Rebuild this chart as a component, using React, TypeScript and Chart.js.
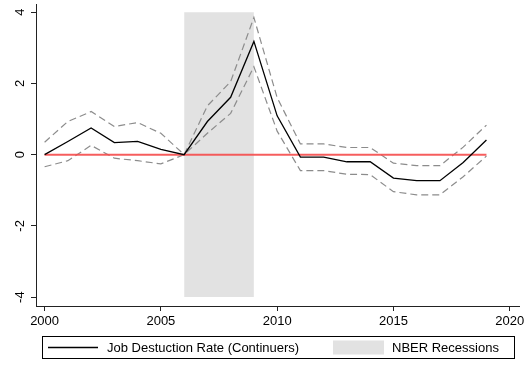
import React, { useEffect, useRef } from "react";
import { Chart, registerables } from "chart.js";

Chart.register(...registerables);

const years = [2000, 2001, 2002, 2003, 2004, 2005, 2006, 2007, 2008, 2009, 2010, 2011, 2012, 2013, 2014, 2015, 2016, 2017, 2018, 2019];
const jobDestruction = [0, 0.37, 0.75, 0.34, 0.37, 0.15, 0, 0.93, 1.61, 3.18, 1.09, -0.07, -0.07, -0.2, -0.2, -0.66, -0.73, -0.73, -0.22, 0.41];
const upperBand = [0.35, 0.93, 1.21, 0.79, 0.9, 0.6, 0, 1.37, 2.05, 3.85, 1.6, 0.3, 0.3, 0.2, 0.2, -0.24, -0.31, -0.31, 0.21, 0.83];
const lowerBand = [-0.34, -0.17, 0.26, -0.1, -0.17, -0.26, 0, 0.6, 1.16, 2.47, 0.66, -0.45, -0.45, -0.55, -0.56, -1.04, -1.13, -1.13, -0.62, -0.04];
const zeroLine = [0, 0, 0, 0, 0, 0, 0, 0, 0, 0, 0, 0, 0, 0, 0, 0, 0, 0, 0, 0];
const recessionYears = [2006, 2009];
const recessionTop = [4, 4];
const recessionBottom = [-4, -4];
const xTicks = [2000, 2005, 2010, 2015, 2020];
const yTicks = [-4, -2, 0, 2, 4];
const legendLabels = ["Job Destuction Rate (Continuers)", "NBER Recessions"];

const FONT = "Liberation Sans, Arial, Helvetica, sans-serif";
const SHADE = "rgb(226,226,226)";
const AXIS = "#222";

const pts = (xs: number[], ys: number[]) => xs.map((x, i) => ({ x, y: ys[i] }));

const legendPlugin = {
  id: "boxLegend",
  afterDraw(chart: any) {
    const ctx = chart.ctx;
    ctx.save();
    const left = 42.5, top = 336.5, w = 472, h = 22;
    ctx.strokeStyle = "#000";
    ctx.lineWidth = 1;
    ctx.strokeRect(left, top, w, h);
    const cy = top + h / 2;
    ctx.beginPath();
    ctx.moveTo(48, cy);
    ctx.lineTo(98, cy);
    ctx.lineWidth = 1.3;
    ctx.stroke();
    ctx.fillStyle = "#000";
    ctx.font = `13px ${FONT}`;
    ctx.textBaseline = "middle";
    ctx.textAlign = "left";
    ctx.fillText(legendLabels[0], 107, cy + 0.5);
    ctx.fillStyle = SHADE;
    ctx.fillRect(333, cy - 7, 51, 14);
    ctx.fillStyle = "#000";
    ctx.fillText(legendLabels[1], 392, cy + 0.5);
    ctx.restore();
  },
};

export default function App() {
  const ref = useRef<HTMLCanvasElement | null>(null);
  useEffect(() => {
    if (!ref.current) return;
    const chart = new Chart(ref.current, {
      type: "line",
      data: {
        datasets: [
          {
            label: "shadeTop",
            data: pts(recessionYears, recessionTop),
            borderWidth: 0,
            borderColor: "rgba(0,0,0,0)",
            backgroundColor: SHADE,
            pointRadius: 0,
            fill: "+1",
            order: 10,
          },
          {
            label: "shadeBottom",
            data: pts(recessionYears, recessionBottom),
            borderWidth: 0,
            borderColor: "rgba(0,0,0,0)",
            pointRadius: 0,
            fill: false,
            order: 11,
          },
          {
            label: "upper",
            data: pts(years, upperBand),
            borderColor: "rgb(140,140,140)",
            borderWidth: 1.2,
            borderDash: [7, 4],
            pointRadius: 0,
            fill: false,
            tension: 0,
            order: 5,
          },
          {
            label: "lower",
            data: pts(years, lowerBand),
            borderColor: "rgb(140,140,140)",
            borderWidth: 1.2,
            borderDash: [7, 4],
            pointRadius: 0,
            fill: false,
            tension: 0,
            order: 4,
          },
          {
            label: "zero",
            data: pts(years, zeroLine),
            borderColor: "rgba(245,75,75,0.9)",
            borderWidth: 2,
            pointRadius: 0,
            fill: false,
            order: 2,
          },
          {
            label: legendLabels[0],
            data: pts(years, jobDestruction),
            borderColor: "#000",
            borderWidth: 1.3,
            pointRadius: 0,
            fill: false,
            tension: 0,
            order: 1,
          },
        ],
      },
      options: {
        animation: false,
        responsive: true,
        maintainAspectRatio: false,
        layout: { padding: { top: 4, right: 11, bottom: 35, left: 0 } },
        plugins: {
          legend: { display: false },
          tooltip: { enabled: false },
        },
        scales: {
          x: {
            type: "linear",
            min: 1999.63,
            max: 2020.4,
            afterBuildTicks: (s: any) => {
              s.ticks = xTicks.map((v) => ({ value: v }));
            },
            afterFit: (s: any) => {
              s.height = 24;
              s.paddingLeft = 0;
              s.paddingRight = 0;
            },
            border: { display: true, color: AXIS, width: 1 },
            grid: { display: true, drawOnChartArea: false, drawTicks: true, tickLength: 5, color: AXIS },
            ticks: {
              color: "#000",
              font: { family: FONT, size: 13 },
              padding: 3,
              maxRotation: 0,
              autoSkip: false,
              callback: (v: any) => String(v),
            },
          },
          y: {
            type: "linear",
            min: -4.25,
            max: 4.23,
            afterBuildTicks: (s: any) => {
              s.ticks = yTicks.map((v) => ({ value: v }));
            },
            afterFit: (s: any) => {
              s.width = 36;
              s.paddingTop = 0;
              s.paddingBottom = 0;
            },
            border: { display: true, color: AXIS, width: 1 },
            grid: { display: true, drawOnChartArea: false, drawTicks: true, tickLength: 5, color: AXIS },
            ticks: {
              color: "#000",
              font: { family: FONT, size: 13 },
              padding: 5,
              minRotation: 90,
              maxRotation: 90,
              crossAlign: "center",
              autoSkip: false,
              callback: (v: any) => String(v),
            },
          },
        },
      },
      plugins: [legendPlugin],
    } as any);
    return () => chart.destroy();
  }, []);
  return (
    <div style={{ position: "fixed", left: 0, top: 0, width: 530, height: 365, background: "#fff" }}>
      <canvas ref={ref} />
    </div>
  );
}
